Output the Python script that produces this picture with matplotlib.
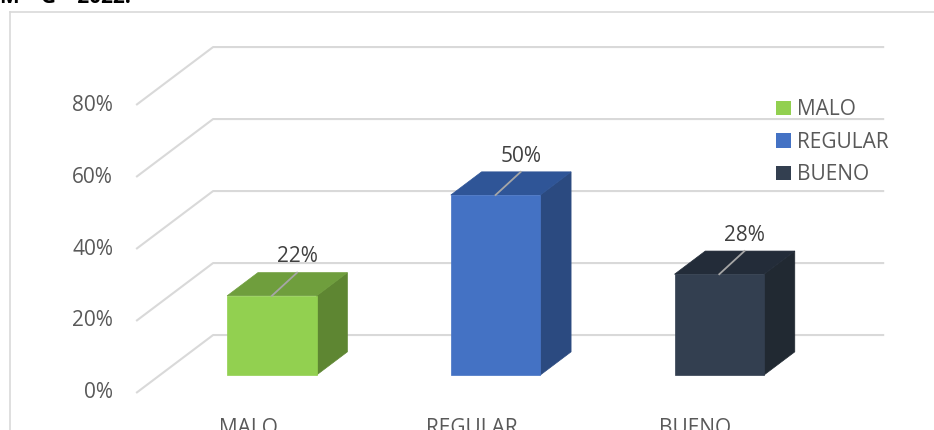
import matplotlib.pyplot as plt
from matplotlib.patches import Polygon, Patch
from matplotlib.lines import Line2D

# data
categories = ['MALO', 'REGULAR', 'BUENO']
values = [22, 50, 28]
tick_values = [0, 20, 40, 60, 80]
face_colors = ['#92D050', '#4472C4', '#333F50']
top_colors = ['#6F9E3D', '#2F5597', '#232C39']
side_colors = ['#5E8632', '#2B4A80', '#212932']

plt.rcParams['font.family'] = ['Open Sans', 'DejaVu Sans']

fig = plt.figure(figsize=(9.34, 4.30), dpi=100)
ax = fig.add_axes([0, 0, 1, 1])
ax.set_xlim(-1.1086, 3.0666)
ax.set_ylim(-10.28, 109.17)
ax.axis('off')

# oblique projection: depth z in [0, 1] shifts right and up
DX, DY = 0.344, 16.1


def proj(x, y, z):
    return (x + DX * z, y + DY * z)


grid_col = '#D9D9D9'
x_left, x_right = -0.5, 2.5
for v in tick_values:
    # side wall and back wall gridlines
    p0 = proj(x_left, v, 0)
    p1 = proj(x_left, v, 1)
    p2 = proj(x_right, v, 1)
    ax.plot([p0[0], p1[0], p2[0]], [p0[1], p1[1], p2[1]],
            color=grid_col, lw=1.5, zorder=1, solid_capstyle='butt')
    ax.text(x_left - 0.103, v, f'{v}%', ha='right', va='center',
            fontsize=15, color='#595959')

# bars
w = 0.4
z0, z1 = 0.31, 0.71
for i, (cat, v) in enumerate(zip(categories, values)):
    xa, xb = i - w / 2, i + w / 2
    front = [proj(xa, 0, z0), proj(xb, 0, z0), proj(xb, v, z0), proj(xa, v, z0)]
    top = [proj(xa, v, z0), proj(xb, v, z0), proj(xb, v, z1), proj(xa, v, z1)]
    side = [proj(xb, 0, z0), proj(xb, 0, z1), proj(xb, v, z1), proj(xb, v, z0)]
    ax.add_patch(Polygon(side, closed=True, fc=side_colors[i], ec=side_colors[i], lw=0.5, zorder=2))
    ax.add_patch(Polygon(top, closed=True, fc=top_colors[i], ec=top_colors[i], lw=0.5, zorder=2))
    ax.add_patch(Polygon(front, closed=True, fc=face_colors[i], ec=face_colors[i], lw=0.5, zorder=3))

    # leader line and value label
    s = proj(i, v, z0)
    e = proj(i - 0.025, v, z1)
    ax.plot([s[0], e[0]], [s[1], e[1]], color='#A6A6A6', lw=1.3, zorder=4)
    ax.text(e[0], e[1] + 4.4, f'{v}%', ha='center', va='center',
            fontsize=15, color='#404040', zorder=5)

    ax.text(i, -6.9, cat, ha='center', va='top', fontsize=15, color='#595959')

handles = [Patch(fc=c, ec='none') for c in face_colors]
fig.legend(handles, categories, loc='upper left', frameon=False,
           bbox_to_anchor=(766 / 934, 1 - 89 / 430), borderpad=0,
           handlelength=0.7, handleheight=0.7, handletextpad=0.3,
           labelspacing=0.55, fontsize=15, labelcolor='#595959')

# chart area border
fig.add_artist(Line2D([9.5 / 934, 9.5 / 934], [0, 1 - 12 / 430],
                      color=grid_col, lw=1.2, transform=fig.transFigure))
fig.add_artist(Line2D([9.5 / 934, 1], [1 - 12 / 430, 1 - 12 / 430],
                      color=grid_col, lw=1.2, transform=fig.transFigure))

fig.text(0.0, 1 + 2.5 / 430, 'M – G – 2022.', ha='left', va='center',
         fontsize=15, fontweight='bold', color='black')

fig.savefig('out.png', dpi=100)
